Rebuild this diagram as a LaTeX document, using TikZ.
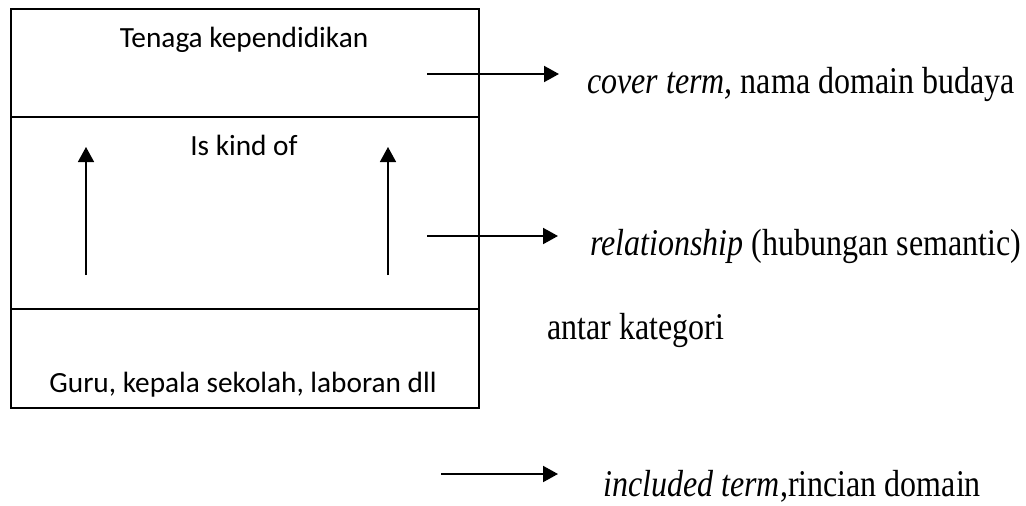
\documentclass[tikz,border=0pt]{standalone}
\usepackage{fontspec}
\setmainfont{Liberation Serif}
\newfontfamily\calibri{Carlito}
\usetikzlibrary{arrows.meta}
\newcommand{\tallt}[1]{\scalebox{1}[1.18]{#1}}
\tikzset{
  band/.style={draw=black, line width=2pt, inner sep=0pt, anchor=north west, minimum width=468pt},
  boxtext/.style={font=\calibri\fontsize{29.3}{34}\selectfont, anchor=base, inner sep=0pt},
  sidetext/.style={font=\fontsize{32}{38}\selectfont, anchor=base west, inner sep=0pt},
  uparrow/.style={line width=1.5pt, -{Triangle[length=15pt,width=16pt]}},
  sidearrow/.style={line width=2pt, -{Triangle[length=15pt,width=16pt]}}
}
\begin{document}
\begin{tikzpicture}[x=1pt,y=-1pt]
\useasboundingbox (0,0) rectangle (1026,506);
% three stacked bands
\node[band, minimum height=108.5pt] (top) at (10,7.5) {};
\node[band, minimum height=192pt] (mid) at (10,116) {};
\node[band, minimum height=99pt] (bot) at (10,308) {};
% texts inside the box
\node[boxtext] (cover) at (244,47) {Tenaga kependidikan};
\node[boxtext] (kind) at (244,155) {Is kind of};
\node[boxtext] (incl) at (243,392) {Guru, kepala sekolah, laboran dll};
% vertical arrows
\coordinate (u1s) at (86,275);
\coordinate (u1e) at (86,147);
\coordinate (u2s) at (388,275);
\coordinate (u2e) at (388,147);
\draw[uparrow] (u1s) -- (u1e);
\draw[uparrow] (u2s) -- (u2e);
% side labels
\node[sidetext] (l1) at (587,93) {\tallt{\textit{cover term,} nama domain budaya}};
\node[sidetext] (l2) at (590,255) {\tallt{\textit{relationship} (hubungan semantic)}};
\node[sidetext] (l3) at (547,339) {\tallt{antar kategori}};
\node[sidetext] (l4) at (603,496) {\tallt{\textit{included term},rincian domain}};
% side arrows
\coordinate (a1s) at (427,74);
\coordinate (a1e) at (559,74);
\coordinate (a2s) at (427,236);
\coordinate (a2e) at (558,236);
\coordinate (a3s) at (441,474);
\coordinate (a3e) at (558,474);
\draw[sidearrow] (a1s) -- (a1e);
\draw[sidearrow] (a2s) -- (a2e);
\draw[sidearrow] (a3s) -- (a3e);
\end{tikzpicture}
\end{document}
